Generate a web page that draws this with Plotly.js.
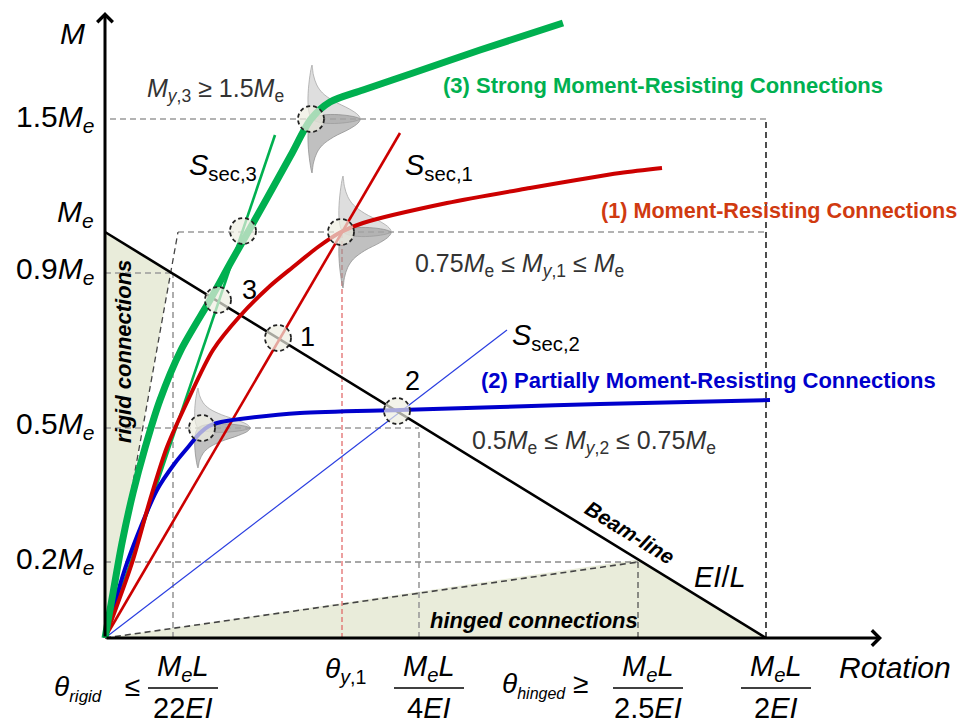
<!DOCTYPE html>
<html><head><meta charset="utf-8">
<script src="https://cdn.plot.ly/plotly-3.0.1.min.js"></script>
<style>html,body{margin:0;padding:0;background:#fff}</style>
</head><body><div id="chart" style="width:964px;height:724px"></div>
<script>
// Schematic units: rotation (x) and moment (y)
// Moment levels: 0.2Me, 0.5Me, 0.9Me, Me, 1.5Me
const mLevels = [76, 210, 365, 406, 519];
// Rotation keys: MeL/22EI, theta_y1, MeL/4EI, MeL/2.5EI, MeL/2EI
const rotKeys = [68, 237, 314, 533, 661];

// (3) Strong moment-resisting connection curve
const greenX = [0, 8, 17, 28, 40, 55, 76, 105, 126, 143, 161, 186, 206, 225, 258, 308, 375, 458];
const greenY = [0, 45, 95, 145, 190, 238, 288, 338, 376, 406, 438, 483, 519, 536, 548, 565, 588, 615];
// (1) Moment-resisting connection curve
const redX = [0, 27, 45, 62, 83, 108, 135, 165, 188, 213, 236, 258, 342, 425, 515, 557];
const redY = [0, 75, 138, 191, 238, 288, 322, 352, 371, 391, 406, 415, 435, 450, 465, 470];
// (2) Partially moment-resisting connection curve
const blueX = [0, 22, 52, 70, 84, 95, 104, 116, 135, 195, 295, 395, 495, 665];
const blueY = [0, 75, 148, 175, 192, 205, 212, 216, 219, 225, 228, 231, 234, 238];
// Secant stiffness lines (end points)
const secGreenX = [0, 170], secGreenY = [0, 503];
const secRedX = [0, 295], secRedY = [0, 505];
const secBlueX = [0, 402], secBlueY = [0, 308];
// Beam-line
const beamX = [0, 661], beamY = [406, 0];
// Marked intersection / yield points
const ptX = [206, 138, 113, 173, 236, 292, 97];
const ptY = [519, 407, 338, 300, 406, 227, 210];
// Yield distributions (base x, centre y, peak width, half height)
const bellBaseX = [207, 238, 93];
const bellCY = [519, 406, 210];
const bellAmp = [48, 48, 52];
const bellHalf = [54, 56, 40];
const bellDy = [0, 4, 10, 18, 26, 34, 44, 54];
const bellW = [1, 0.96, 0.78, 0.45, 0.22, 0.1, 0.03, 0];

// Tick label texts
const yTickText = ['0.2<i>M<sub>e</sub></i>', '0.5<i>M<sub>e</sub></i>', '0.9<i>M<sub>e</sub></i>', '<i>M<sub>e</sub></i>', '1.5<i>M<sub>e</sub></i>'];
const xFracDen = ['22<i>EI</i>', '4<i>EI</i>', '2.5<i>EI</i>', '2<i>EI</i>'];
const xFracNum = '<i>M<sub>e</sub>L</i>';

const FONT = 'Liberation Sans, Arial, sans-serif';
const fill = '#e9ecda';
const traces = [];
function seg(x, y, color, width, dash) {
  traces.push({x, y, type: 'scatter', mode: 'lines', hoverinfo: 'skip',
    line: {color, width, dash: dash || 'solid'}});
}
const [m02, m05, m09, m1, m15] = mLevels;
const [rRigid, rY1, rQ, rHinge, rHalf] = rotKeys;
// beam-line intersections for the shaded zones
const bSlope = (beamY[1] - beamY[0]) / (beamX[1] - beamX[0]);
const rigidTopX = 73; // rigid boundary reaches Me level here
const rs = m1 / rigidTopX;
const ix = beamY[0] / (rs - bSlope);
traces.push({x: [0, 0, ix, 0], y: [0, beamY[0], rs * ix, 0], type: 'scatter', mode: 'lines',
  fill: 'toself', fillcolor: fill, line: {width: 0}, hoverinfo: 'skip'});
const hy = beamY[0] + bSlope * rHinge;
traces.push({x: [0, rHinge, beamX[1], 0], y: [0, hy, 0, 0], type: 'scatter', mode: 'lines',
  fill: 'toself', fillcolor: fill, line: {width: 0}, hoverinfo: 'skip'});

const gd = '6px,4px';
seg([5, rHalf], [m15, m15], '#9a9a9a', 1.6, gd);
seg([rHalf, rHalf], [0, m15], '#222', 1.6, gd);
seg([rigidTopX, rHalf], [m1, m1], '#9a9a9a', 1.6, gd);
seg([0, rigidTopX], [0, m1], '#444', 1.3, gd);
seg([0, rRigid], [m09, m09], '#9a9a9a', 1.6, gd);
seg([rRigid, rRigid], [0, m09], '#9a9a9a', 1.6, gd);
seg([0, rQ], [m05, m05], '#9a9a9a', 1.6, gd);
seg([rQ, rQ], [0, m05], '#9a9a9a', 1.6, gd);
seg([0, rHinge], [m02, m02], '#8a8a8a', 1.6, gd);
seg([rHinge, rHinge], [0, m02], '#555', 1.3, gd);
seg([0, rHinge], [0, m02], '#444', 1.6, gd);
seg([rY1, rY1], [0, m1], '#e06060', 1.2, '5px,3px');

// yield distributions
for (let k = 0; k < bellBaseX.length; k++) {
  const bx = bellBaseX[k], cy = bellCY[k], a = bellAmp[k], h = bellHalf[k] / 54;
  const ux = [bx], uy = [cy], lx = [bx], ly = [cy];
  for (let i = 0; i < bellDy.length; i++) {
    ux.push(bx + a * bellW[i]); uy.push(cy + bellDy[i] * h);
    lx.push(bx + a * bellW[i]); ly.push(cy - bellDy[i] * h);
  }
  ux.push(bx); uy.push(cy); lx.push(bx); ly.push(cy);
  traces.push({x: ux, y: uy, type: 'scatter', mode: 'lines', fill: 'toself', line: {color: 'rgba(160,160,160,0.9)', width: 0.8, shape: 'spline'}, fillcolor: 'rgba(200,200,200,0.6)', hoverinfo: 'skip'});
  traces.push({x: lx, y: ly, type: 'scatter', mode: 'lines', fill: 'toself', line: {color: 'rgba(140,140,140,0.9)', width: 0.8, shape: 'spline'}, fillcolor: 'rgba(150,150,150,0.6)', hoverinfo: 'skip'});
}

seg(secBlueX, secBlueY, '#2a3ee0', 1.2);
seg(beamX, beamY, '#000', 2.6);
seg(secRedX, secRedY, '#cc0000', 2.6);
seg(secGreenX, secGreenY, '#00b050', 2.6);
traces.push({x: blueX, y: blueY, type: 'scatter', mode: 'lines', line: {color: '#0000cc', width: 4, shape: 'spline', smoothing: 0.8}, hoverinfo: 'skip'});
traces.push({x: redX, y: redY, type: 'scatter', mode: 'lines', line: {color: '#cc0000', width: 4, shape: 'spline', smoothing: 0.8}, hoverinfo: 'skip'});
traces.push({x: greenX, y: greenY, type: 'scatter', mode: 'lines', line: {color: '#00b050', width: 7, shape: 'spline', smoothing: 0.8}, hoverinfo: 'skip'});

const shapes = [];
const R = 13;
for (let i = 0; i < ptX.length; i++) {
  shapes.push({type: 'circle', xref: 'x', yref: 'y', x0: ptX[i] - R, x1: ptX[i] + R, y0: ptY[i] - R, y1: ptY[i] + R,
    line: {color: '#222', width: 1.8, dash: '4px,3px'}, fillcolor: 'rgba(238,238,225,0.7)'});
}
const fracX = [rRigid, rQ, rHinge, rHalf].map(v => v + 10);
fracX.forEach(cx => shapes.push({type: 'line', xref: 'x', yref: 'y', x0: cx - 35, x1: cx + 35, y0: -50, y1: -50, line: {color: '#000', width: 1.5}}));

const anns = [];
function ann(x, y, text, size, o) {
  anns.push(Object.assign({x, y, xref: 'x', yref: 'y', text, showarrow: false,
    font: {family: FONT, size, color: '#000'}}, o || {}));
}
// axes with arrows
anns.push({x: 777, y: 0, ax: 0, ay: 0, axref: 'x', ayref: 'y', xref: 'x', yref: 'y', text: '', showarrow: true, arrowhead: 4, arrowwidth: 3, arrowsize: 1, arrowcolor: '#000', standoff: 0});
anns.push({x: 0, y: 626, ax: 0, ay: 0, axref: 'x', ayref: 'y', xref: 'x', yref: 'y', text: '', showarrow: true, arrowhead: 4, arrowwidth: 3, arrowsize: 1, arrowcolor: '#000', standoff: 0});

// y labels
const yShift = [2, 3, 3, 19, 1];
mLevels.forEach((v, i) => ann(-9, v + yShift[i], yTickText[i], 30, {xanchor: 'right', yanchor: 'middle'}));
ann(-33, 605, '<i>M</i>', 30, {xanchor: 'center'});
// x labels
fracX.forEach((cx, i) => {
  ann(cx, -30, xFracNum, 29, {xanchor: 'center', yanchor: 'middle'});
  ann(cx, -70, xFracDen[i], 29, {xanchor: 'center', yanchor: 'middle'});
});
ann(37, -50, '<i>θ</i><sub><i><span style="font-size:17px">rigid</span></i></sub>&nbsp;&nbsp;&nbsp;≤', 28, {xanchor: 'right', yanchor: 'middle'});
ann(485, -47, '<i>θ</i><sub><i><span style="font-size:16px">hinged</span></i></sub> ≥', 28, {xanchor: 'right', yanchor: 'middle'});
ann(rY1 + 3, -32, '<i>θ</i><sub><i>y</i>,1</sub>', 28, {xanchor: 'center', yanchor: 'middle'});
ann(732, -29, '<i>Rotation</i>', 30, {xanchor: 'left', yanchor: 'middle'});

// relation texts
const grey = '#333';
ann(40, 548, '<i>M</i><sub><i>y</i>,3</sub> ≥ 1.5<i>M</i><sub>e</sub>', 25, {xanchor: 'left', font: {family: FONT, size: 25, color: grey}});
ann(308, 373, '0.75<i>M</i><sub>e</sub> ≤ <i>M</i><sub><i>y</i>,1</sub> ≤ <i>M</i><sub>e</sub>', 25, {xanchor: 'left', font: {family: FONT, size: 25, color: grey}});
ann(365, 196, '0.5<i>M</i><sub>e</sub> ≤ <i>M</i><sub><i>y</i>,2</sub> ≤ 0.75<i>M</i><sub>e</sub>', 25, {xanchor: 'left', font: {family: FONT, size: 25, color: grey}});
// secant labels
ann(82, 471, '<i>S</i><sub>sec,3</sub>', 29, {xanchor: 'left'});
ann(298, 471, '<i>S</i><sub>sec,1</sub>', 29, {xanchor: 'left'});
ann(405, 301, '<i>S</i><sub>sec,2</sub>', 29, {xanchor: 'left'});
// numbers
ann(144, 348, '3', 27, {});
ann(202, 301, '1', 27, {});
ann(307, 257, '2', 27, {});
// category labels
ann(336, 553, '<b>(3) Strong Moment-Resisting Connections</b>', 22, {xanchor: 'left', font: {family: FONT, size: 22, color: '#00b050'}});
ann(494, 428, '<b>(1) Moment-Resisting Connections</b>', 21.6, {xanchor: 'left', font: {family: FONT, size: 21.6, color: '#d03a10'}});
ann(374, 258, '<b>(2) Partially Moment-Resisting Connections</b>', 22, {xanchor: 'left', font: {family: FONT, size: 22, color: '#0000cc'}});
// zone labels
ann(525, 106, '<b><i>Beam-line</i></b>', 21, {textangle: 31.6});
ann(615, 61, '<i>EI</i>/<i>L</i>', 29, {});
ann(323, 18, '<b><i>hinged connections</i></b>', 22, {xanchor: 'left'});
ann(18, 286, '<b><i>rigid connections</i></b>', 22, {textangle: -90});

const layout = {
  width: 964, height: 724, margin: {l: 0, r: 0, t: 0, b: 0},
  paper_bgcolor: '#fff', plot_bgcolor: '#fff', showlegend: false,
  xaxis: {range: [-105, 859], showgrid: false, zeroline: false, showticklabels: false, showline: false, fixedrange: true},
  yaxis: {range: [-86, 638], showgrid: false, zeroline: false, showticklabels: false, showline: false, fixedrange: true},
  shapes, annotations: anns
};
Plotly.newPlot('chart', traces, layout, {staticPlot: true});
</script></body></html>
